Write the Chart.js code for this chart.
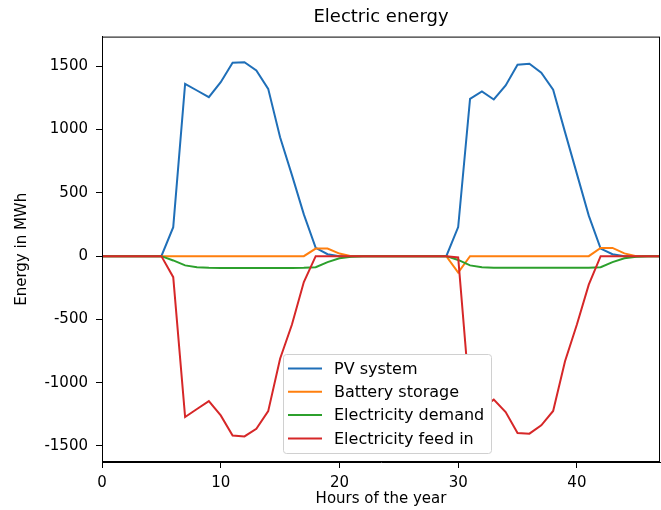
<!DOCTYPE html>
<html>
<head>
<meta charset="utf-8">
<script src="https://cdn.jsdelivr.net/npm/chart.js@4.4.1/dist/chart.umd.min.js"></script>
<style>
  html, body { margin: 0; padding: 0; background: #fff; }
  #wrap { width: 661px; height: 510px; }
</style>
</head>
<body>
<div id="wrap"><canvas id="chart" width="661" height="510"></canvas></div>
<script>
// hours of the year (x)
const hours = [0, 1, 2, 3, 4, 5, 6, 7, 8, 9, 10, 11, 12, 13, 14, 15, 16, 17, 18, 19, 20, 21, 22, 23,
  24, 25, 26, 27, 28, 29, 30, 31, 32, 33, 34, 35, 36, 37, 38, 39, 40, 41, 42, 43, 44, 45, 46, 47];

const pvSystem = [0, 0, 0, 0, 0, 0, 229, 1362, 1309, 1256, 1375, 1528, 1533, 1467, 1322, 940, 640, 330, 65, 15, 0, 0, 0, 0,
  0, 0, 0, 0, 0, 0, 230, 1243, 1301, 1238, 1349, 1512, 1520, 1449, 1315, 980, 650, 320, 60, 15, 0, 0, 0, 0];

const batteryStorage = [0, 0, 0, 0, 0, 0, 0, 0, 0, 0, 0, 0, 0, 0, 0, 0, 0, 0, 60, 60, 20, 0, 0, 0,
  0, 0, 0, 0, 0, 0, -130, 0, 0, 0, 0, 0, 0, 0, 0, 0, 0, 0, 65, 65, 22, 0, 0, 0];

const electricityDemand = [0, 0, 0, 0, 0, 0, -34, -73, -87, -92, -93, -93, -93, -93, -93, -93, -93, -92, -87, -47, -17, -5, 0, 0,
  0, 0, 0, 0, 0, 0, -30, -73, -88, -92, -92, -92, -92, -92, -92, -92, -92, -92, -87, -47, -17, -5, 0, 0];

const electricityFeedIn = [0, 0, 0, 0, 0, 0, -166, -1272, -1208, -1146, -1259, -1417, -1425, -1364, -1225, -811, -540, -205, 0, 0, 0, 0, 0, 0,
  0, 0, 0, 0, 0, 0, -10, -1145, -1200, -1134, -1232, -1398, -1403, -1337, -1224, -830, -540, -225, 0, 0, 0, 0, 0, 0];

const seriesNames = ['PV system', 'Battery storage', 'Electricity demand', 'Electricity feed in'];
const seriesColors = ['#1f6fb8', '#ff7f0e', '#2ca02c', '#d62728'];
const xTicks = [0, 10, 20, 30, 40];
const yTicks = [-1500, -1000, -500, 0, 500, 1000, 1500];

const FONT = "'DejaVu Sans', sans-serif";

function toPoints(values) {
  return values.map((v, i) => ({ x: hours[i], y: v }));
}

const allSeries = [pvSystem, batteryStorage, electricityDemand, electricityFeedIn];
const datasets = allSeries.map((values, i) => ({
  label: seriesNames[i],
  data: toPoints(values),
  borderColor: seriesColors[i],
  backgroundColor: seriesColors[i],
  borderWidth: 2,
  pointRadius: 0,
  tension: 0,
  order: allSeries.length - i // later series drawn on top, like matplotlib
}));

// frame around the plot + legend box in the lower middle
const framePlugin = {
  id: 'frame',
  afterDraw(chart) {
    const { ctx, chartArea } = chart;
    ctx.save();
    ctx.strokeStyle = '#000';
    ctx.lineWidth = 1;
    ctx.strokeRect(chartArea.left + 0.5, chartArea.top + 0.5,
      chartArea.right - chartArea.left - 1, chartArea.bottom - chartArea.top - 1);

    // legend
    const lx = 283, ly = 354, lw = 208, lh = 99;
    ctx.fillStyle = '#fff';
    ctx.strokeStyle = '#d0d0d0';
    ctx.beginPath();
    ctx.roundRect(lx + 0.5, ly + 0.5, lw, lh, 3);
    ctx.fill();
    ctx.stroke();
    ctx.font = '16px ' + FONT;
    ctx.textBaseline = 'middle';
    ctx.textAlign = 'left';
    chart.data.datasets.forEach((ds, i) => {
      const y = ly + 14.5 + i * 23.3;
      ctx.strokeStyle = ds.borderColor;
      ctx.lineWidth = 2;
      ctx.beginPath();
      ctx.moveTo(lx + 5, y);
      ctx.lineTo(lx + 39, y);
      ctx.stroke();
      ctx.fillStyle = '#000';
      ctx.fillText(ds.label, lx + 51, y + 1);
    });
    ctx.restore();
  }
};

new Chart(document.getElementById('chart'), {
  type: 'line',
  data: { datasets: datasets },
  options: {
    responsive: false,
    animation: false,
    layout: { padding: { left: 0, right: 1, top: 0, bottom: 0 } },
    plugins: {
      legend: { display: false },
      tooltip: { enabled: false },
      title: {
        display: true,
        text: 'Electric energy',
        fullSize: false,
        color: '#000',
        font: { family: FONT, size: 18, weight: 'normal' },
        padding: { top: 7, bottom: 8 }
      }
    },
    scales: {
      x: {
        type: 'linear',
        min: 0,
        max: 47,
        afterBuildTicks: scale => { scale.ticks = xTicks.map(v => ({ value: v })); },
        afterFit: scale => { scale.height = 48; },
        grid: { drawOnChartArea: false, drawTicks: true, tickLength: 6, color: '#000' },
        border: { color: '#000', width: 1 },
        ticks: { color: '#000', font: { family: FONT, size: 15 }, padding: 6, maxRotation: 0,
          callback: v => String(v) },
        title: {
          display: true,
          text: 'Hours of the year',
          color: '#000',
          font: { family: FONT, size: 15 },
          padding: { top: 0, bottom: 2 }
        }
      },
      y: {
        type: 'linear',
        min: -1627,
        max: 1735,
        afterBuildTicks: scale => { scale.ticks = yTicks.map(v => ({ value: v })); },
        afterFit: scale => { scale.width = 102; },
        grid: { drawOnChartArea: false, drawTicks: true, tickLength: 6, color: '#000' },
        border: { color: '#000', width: 1 },
        ticks: { color: '#000', font: { family: FONT, size: 15 }, padding: 8,
          callback: v => String(v) },
        title: {
          display: true,
          text: 'Energy in MWh',
          color: '#000',
          font: { family: FONT, size: 15 },
          padding: { top: 13, bottom: 0 }
        }
      }
    }
  },
  plugins: [framePlugin]
});
</script>
</body>
</html>
